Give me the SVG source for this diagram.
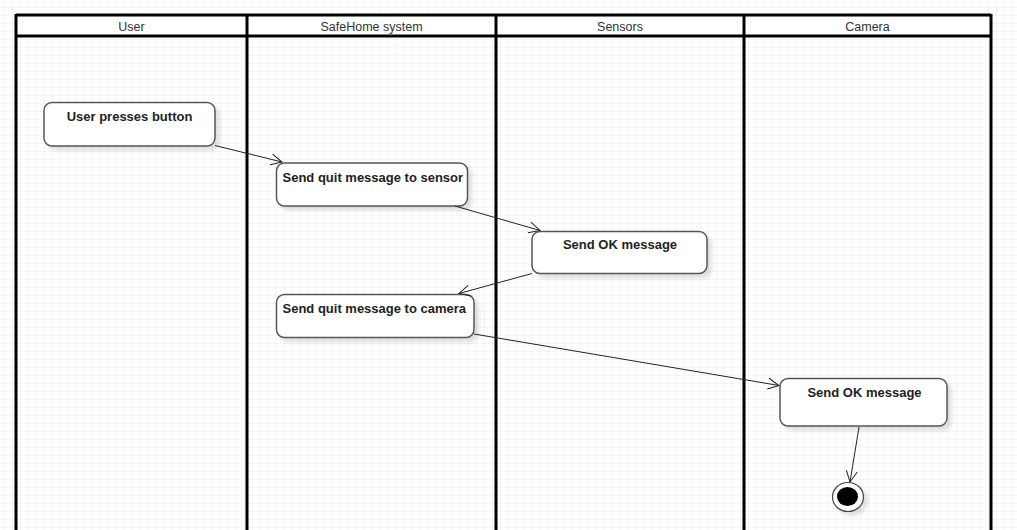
<svg xmlns="http://www.w3.org/2000/svg" width="1017" height="530" viewBox="0 0 1017 530">
<defs>
<pattern id="grid" x="4" y="7" width="8" height="8" patternUnits="userSpaceOnUse">
<path d="M0 0H8M0 0V8" fill="none" stroke="#ececec" stroke-width="1"/>
</pattern>
<marker id="arr" markerWidth="14" markerHeight="14" refX="12" refY="7" orient="auto" markerUnits="userSpaceOnUse">
<path d="M1 1.5L12 7L1 12.5" fill="none" stroke="#222" stroke-width="1"/>
</marker>
<filter id="sh" x="-10%" y="-20%" width="130%" height="150%">
<feDropShadow dx="4" dy="4" stdDeviation="2" flood-color="#000" flood-opacity="0.12"/>
</filter>
</defs>
<style>
.sep{stroke:#000;stroke-width:3}
.hd{font-family:"Liberation Sans",Arial,sans-serif;font-size:12.5px;fill:#333;text-anchor:middle}
.box{fill:#fff;stroke:#555;stroke-width:1.5;filter:url(#sh)}
.lbl{font-family:"Liberation Sans",Arial,sans-serif;font-size:13px;font-weight:bold;fill:#222}
.c{fill:none;stroke:#222;stroke-width:1;marker-end:url(#arr)}
</style>
<rect width="1017" height="530" fill="#fff"/>
<rect width="1017" height="530" fill="url(#grid)"/>
<g id="swimlanes">
<rect x="16" y="15" width="975" height="21" fill="#fff"/>
<line x1="16" y1="15" x2="991" y2="15" class="sep" stroke-width="2"/>
<line x1="16" y1="36" x2="991" y2="36" class="sep" stroke-width="2.5"/>
<line x1="16" y1="14" x2="16" y2="530" class="sep" stroke-width="2.5"/>
<line x1="247" y1="14" x2="247" y2="530" class="sep"/>
<line x1="496" y1="14" x2="496" y2="530" class="sep"/>
<line x1="744" y1="14" x2="744" y2="530" class="sep"/>
<line x1="991" y1="14" x2="991" y2="530" class="sep"/>
<text class="hd" x="131.5" y="31">User</text>
<text class="hd" x="371.5" y="31">SafeHome system</text>
<text class="hd" x="620" y="31">Sensors</text>
<text class="hd" x="867.5" y="31">Camera</text>
</g>
<g id="n1"><rect class="box" x="44" y="102.5" width="171" height="43.5" rx="8"/><text class="lbl" x="129.5" y="121" text-anchor="middle">User presses button</text></g>
<g id="n2"><rect class="box" x="276.5" y="163" width="191" height="43" rx="8"/><text class="lbl" x="282.5" y="181.5">Send quit message to sensor</text></g>
<g id="n3"><rect class="box" x="532" y="231.5" width="175" height="42" rx="8"/><text class="lbl" x="620" y="249" text-anchor="middle">Send OK message</text></g>
<g id="n4"><rect class="box" x="276.5" y="294.5" width="197.5" height="43" rx="8"/><text class="lbl" x="282.5" y="313">Send quit message to camera</text></g>
<g id="n5"><rect class="box" x="780" y="378.5" width="167" height="47.5" rx="8"/><text class="lbl" x="864.5" y="397" text-anchor="middle">Send OK message</text></g>
<g id="final"><ellipse cx="848" cy="497" rx="15.5" ry="14.5" fill="#fff" stroke="#444" stroke-width="1.2" filter="url(#sh)"/><ellipse cx="847.5" cy="496.5" rx="10.5" ry="9.5" fill="#000"/></g>
<g id="connectors">
<path class="c" d="M215 145.5L282 162"/>
<path class="c" d="M455 206L540 230.5"/>
<path class="c" d="M532 273.5L459 293.5"/>
<path class="c" d="M474 334L779 385.5"/>
<path class="c" d="M859 427L850 482"/>
</g>
</svg>
